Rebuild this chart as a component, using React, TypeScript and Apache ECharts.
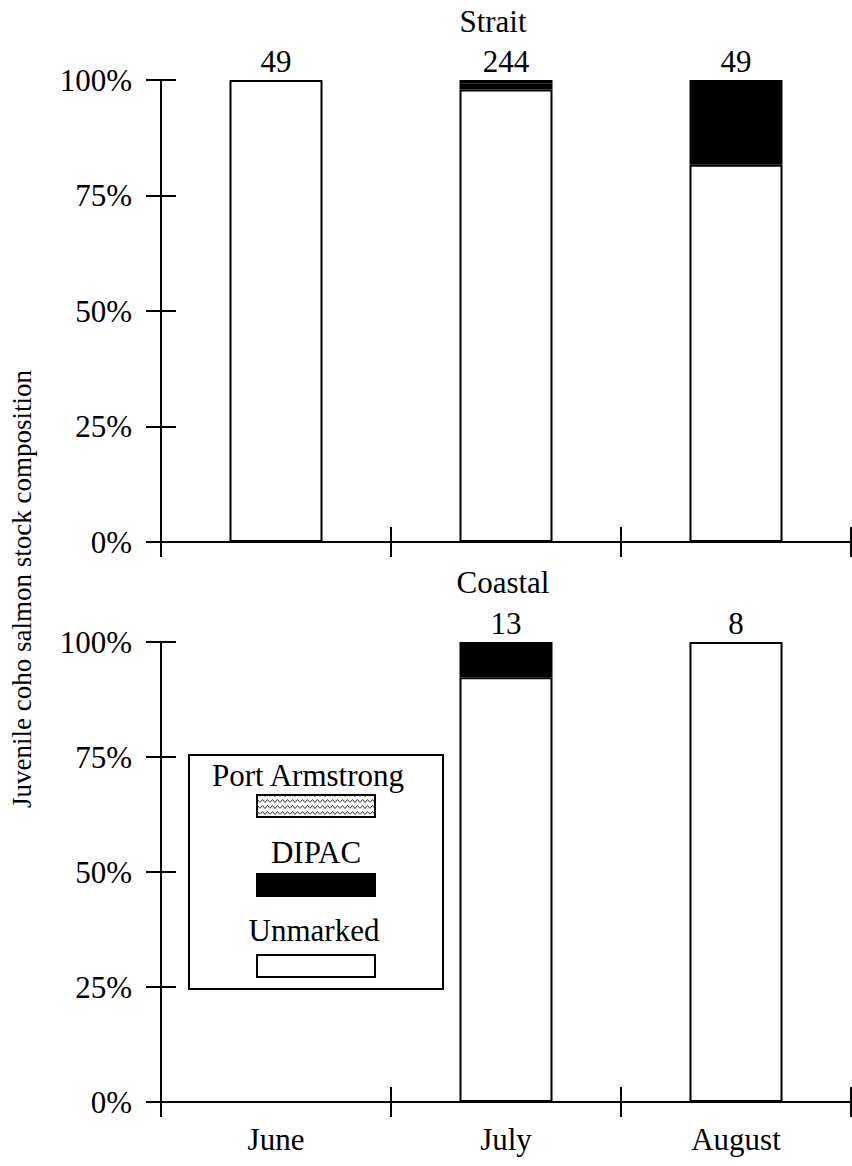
import React, { useEffect, useRef } from "react";
import * as echarts from "echarts";

const months = ["June", "July", "August"];
const yTicks = [0, 25, 50, 75, 100];

// Strait (sample sizes 49, 244, 49)
const straitN = [49, 244, 49];
const straitUnmarked = [100, 97.95, 81.63];
const straitDipac = [null, 1.23, 18.37];
const straitPortArmstrong = [null, 0.82, null];

// Coastal (no June sample; 13, 8)
const coastalN = [null, 13, 8];
const coastalUnmarked = [null, 92.31, 100];
const coastalDipac = [null, 7.69, null];
const coastalPortArmstrong = [null, null, null];

const legendItems = ["Port Armstrong", "DIPAC", "Unmarked"];

const FONT = '"Liberation Serif", "Times New Roman", serif';
const FS = 31;

function makePattern() {
  const c = document.createElement("canvas");
  c.width = 10;
  c.height = 6;
  const ctx = c.getContext("2d")!;
  ctx.fillStyle = "#fff";
  ctx.fillRect(0, 0, 10, 6);
  ctx.strokeStyle = "#333";
  ctx.lineWidth = 1;
  ctx.beginPath();
  ctx.moveTo(0, 4.5);
  ctx.lineTo(2.5, 1.5);
  ctx.lineTo(5, 4.5);
  ctx.lineTo(7.5, 1.5);
  ctx.lineTo(10, 4.5);
  ctx.stroke();
  return { image: c, repeat: "repeat", imageWidth: 10, imageHeight: 6 } as any;
}

export default function App() {
  const ref = useRef<HTMLDivElement>(null);
  useEffect(() => {
    if (!ref.current) return;
    const chart = echarts.init(ref.current, null, { renderer: "svg" });
    const pattern = makePattern();
    const border = { borderColor: "#000", borderWidth: 2 };
    const axisLine = { lineStyle: { color: "#000", width: 2 } };
    const tickStyle = { color: "#000", width: 2 };

    const xAxes: any[] = [];
    const yAxes: any[] = [];
    [0, 1].forEach((g) => {
      xAxes.push({
        gridIndex: g,
        type: "category",
        position: "bottom",
        data: months,
        boundaryGap: true,
        axisLine: axisLine,
        axisTick: { show: true, length: 15, lineStyle: tickStyle },
        axisLabel: {
          show: g === 1,
          fontSize: FS,
          fontFamily: FONT,
          color: "#000",
          margin: 22,
        },
        splitLine: { show: false },
      });
      xAxes.push({
        gridIndex: g,
        type: "category",
        position: "bottom",
        data: months,
        boundaryGap: true,
        axisLine: { show: false },
        axisTick: { show: true, inside: true, length: 15, lineStyle: tickStyle },
        axisLabel: { show: false },
        splitLine: { show: false },
      });
      yAxes.push({
        gridIndex: g,
        type: "value",
        position: "left",
        min: yTicks[0],
        max: yTicks[yTicks.length - 1],
        interval: 25,
        axisLine: { show: true, ...axisLine },
        axisTick: { show: true, length: 15, lineStyle: tickStyle },
        axisLabel: {
          formatter: "{value}%",
          fontSize: FS,
          fontFamily: FONT,
          color: "#000",
          margin: 29,
        },
        splitLine: { show: false },
      });
      yAxes.push({
        gridIndex: g,
        type: "value",
        position: "left",
        min: yTicks[0],
        max: yTicks[yTicks.length - 1],
        interval: 25,
        axisLine: { show: false },
        axisTick: { show: true, inside: true, length: 15, lineStyle: tickStyle },
        axisLabel: { show: false },
        splitLine: { show: false },
      });
    });

    const panel = (
      g: number,
      stack: string,
      unmarked: any[],
      dipac: any[],
      pa: any[],
      n: any[]
    ) => {
      const ax = { xAxisIndex: g * 2, yAxisIndex: g * 2, stack, barWidth: 93 };
      return [
        { ...ax, name: "Unmarked", type: "bar", data: unmarked, itemStyle: { color: "#fff", ...border } },
        { ...ax, name: "DIPAC", type: "bar", data: dipac, itemStyle: { color: "#000", ...border } },
        { ...ax, name: "Port Armstrong", type: "bar", data: pa, itemStyle: { color: pattern, ...border } },
        {
          ...ax,
          name: "n",
          type: "bar",
          data: n.map(() => 0),
          itemStyle: { color: "rgba(0,0,0,0)", borderWidth: 0 },
          label: {
            show: true,
            position: "top",
            distance: 3,
            fontSize: FS,
            fontFamily: FONT,
            color: "#000",
            formatter: (p: any) => (n[p.dataIndex] == null ? "" : String(n[p.dataIndex])),
          },
        },
      ];
    };

    const textStyle = (text: string, extra: any = {}) => ({
      text,
      fontSize: FS,
      fontFamily: FONT,
      fill: "#000",
      textAlign: "center",
      textVerticalAlign: "middle",
      ...extra,
    });

    const lgX = 189, lgY = 755, lgW = 254, lgH = 234;
    const swX = 257, swW = 118, swH = 22;
    const lgCx = 316;

    chart.setOption({
      animation: false,
      backgroundColor: "#fff",
      grid: [
        { left: 161, right: 1, top: 80, height: 462 },
        { left: 161, right: 1, top: 642, height: 460 },
      ],
      xAxis: xAxes,
      yAxis: yAxes,
      series: [
        ...panel(0, "strait", straitUnmarked, straitDipac, straitPortArmstrong, straitN),
        ...panel(1, "coastal", coastalUnmarked, coastalDipac, coastalPortArmstrong, coastalN),
      ],
      graphic: [
        { type: "text", x: 493, y: 21, style: textStyle("Strait") },
        { type: "text", x: 503, y: 582, style: textStyle("Coastal") },
        {
          type: "text",
          x: 22,
          y: 589,
          rotation: Math.PI / 2,
          style: textStyle("Juvenile coho salmon stock composition", { fontSize: 27 }),
        },
        {
          type: "rect",
          shape: { x: lgX, y: lgY, width: lgW, height: lgH },
          style: { fill: "#fff", stroke: "#000", lineWidth: 2 },
          z: 100,
        },
        { type: "text", x: lgCx - 8, y: 775, z: 101, style: textStyle(legendItems[0]) },
        {
          type: "rect",
          z: 101,
          shape: { x: swX, y: 795, width: swW, height: swH },
          style: { fill: pattern, stroke: "#000", lineWidth: 2 },
        },
        { type: "text", x: lgCx, y: 852, z: 101, style: textStyle(legendItems[1]) },
        {
          type: "rect",
          z: 101,
          shape: { x: swX, y: 874, width: swW, height: swH },
          style: { fill: "#000", stroke: "#000", lineWidth: 2 },
        },
        { type: "text", x: lgCx - 2, y: 930, z: 101, style: textStyle(legendItems[2]) },
        {
          type: "rect",
          z: 101,
          shape: { x: swX, y: 955, width: swW, height: swH },
          style: { fill: "#fff", stroke: "#000", lineWidth: 2 },
        },
      ],
    });
    return () => chart.dispose();
  }, []);

  return (
    <div
      ref={ref}
      style={{ position: "absolute", left: 0, top: 0, width: 852, height: 1166 }}
    />
  );
}
